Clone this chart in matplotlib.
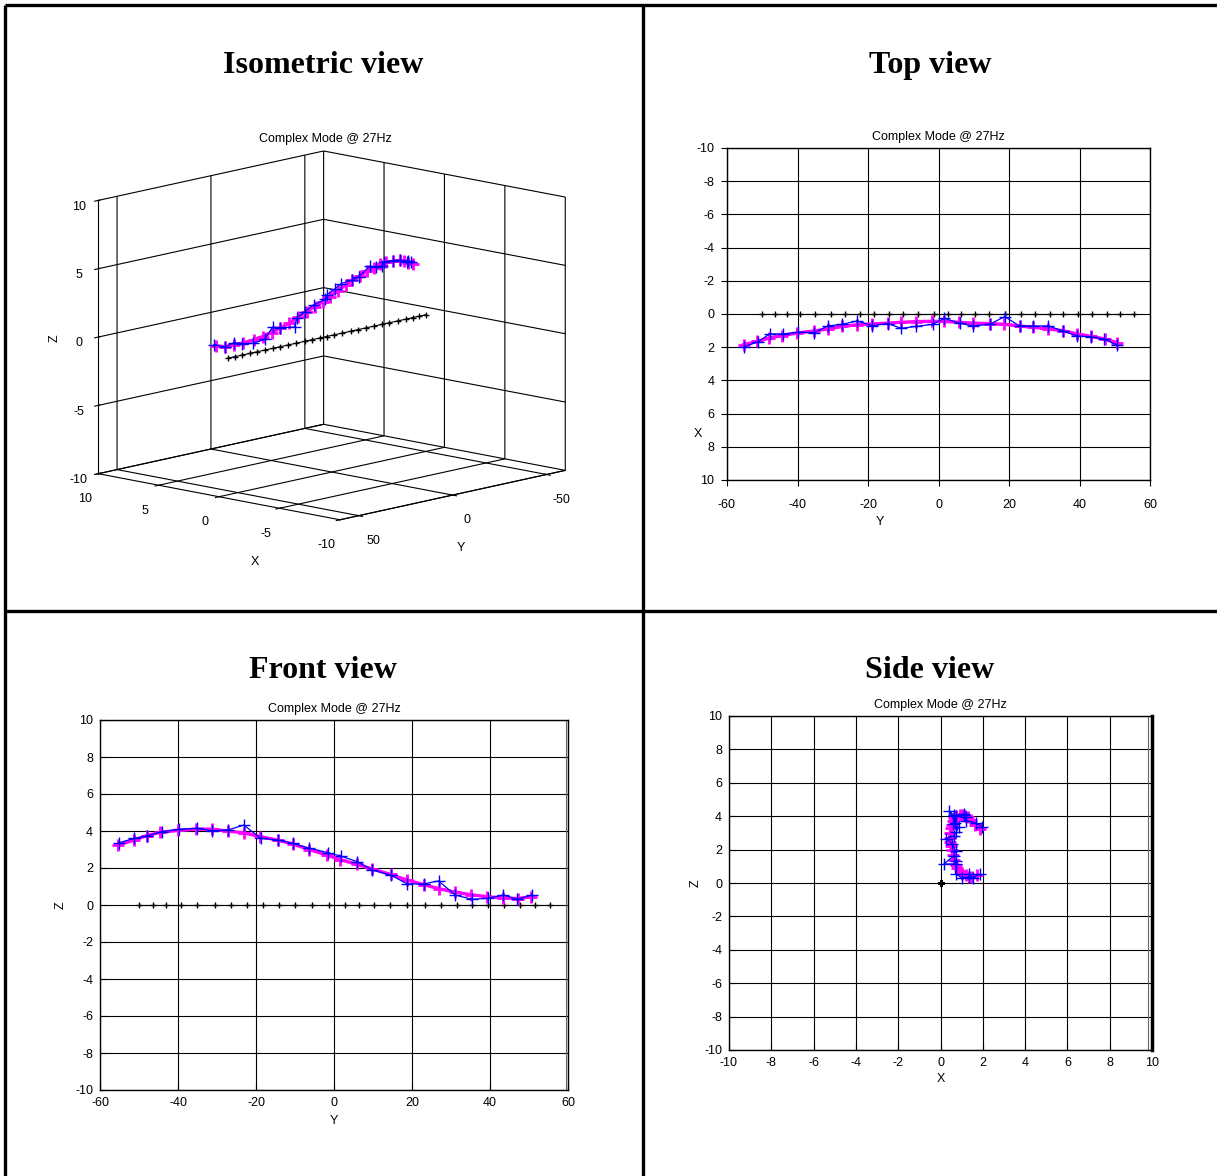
import matplotlib
matplotlib.use("Agg")
import matplotlib.pyplot as plt
import numpy as np
from matplotlib.lines import Line2D

plt.rcParams["font.family"] = ["Liberation Sans", "DejaVu Sans"]
plt.rcParams["axes.unicode_minus"] = False

# ── data ──
y_undef = [-50.0, -46.5, -43.0, -39.3, -35.1, -30.5, -26.5, -22.4, -18.3, -14.0,
           -10.0, -5.7, -1.2, 2.8, 6.5, 10.3, 14.4, 18.8, 23.3, 27.4,
           31.5, 35.3, 39.6, 43.6, 47.7, 51.5, 55.4]

# measured deformed shape (blue)
y_meas = [-55.1, -51.2, -47.9, -44.2, -39.8, -35.2, -31.4, -27.3, -23.1, -18.8,
          -14.3, -10.6, -6.4, -1.6, 1.7, 6.0, 9.8, 14.5, 18.8, 23.0,
          26.8, 31.1, 35.3, 39.4, 43.4, 47.0, 50.7]
x_meas = [1.97, 1.67, 1.20, 1.20, 1.10, 1.12, 0.72, 0.62, 0.42, 0.70,
          0.58, 0.86, 0.75, 0.62, 0.26, 0.56, 0.72, 0.62, 0.16, 0.72,
          0.72, 0.72, 1.02, 1.33, 1.37, 1.52, 1.87]
z_meas = [3.37, 3.60, 3.73, 3.96, 4.09, 4.14, 4.02, 4.05, 4.32, 3.60,
          3.51, 3.33, 3.08, 2.83, 2.65, 2.34, 1.89, 1.62, 1.14, 1.14,
          1.30, 0.54, 0.31, 0.36, 0.54, 0.31, 0.54]

# smoothed deformed shape (magenta)
y_fit = [-55.3, -51.4, -48.0, -44.5, -40.1, -35.3, -31.3, -27.3, -23.2, -18.9,
         -14.4, -10.6, -6.4, -1.8, 1.6, 5.9, 9.8, 14.5, 18.7, 23.0,
         26.9, 31.0, 35.2, 39.3, 43.3, 47.1, 50.6]
x_fit = [1.85, 1.65, 1.45, 1.30, 1.15, 1.02, 0.90, 0.75, 0.65, 0.60,
         0.55, 0.50, 0.46, 0.44, 0.45, 0.50, 0.55, 0.58, 0.62, 0.72,
         0.80, 0.90, 1.00, 1.20, 1.35, 1.50, 1.72]
z_fit = [3.25, 3.50, 3.75, 3.93, 4.03, 4.10, 4.10, 4.00, 3.90, 3.70,
         3.50, 3.30, 3.00, 2.70, 2.45, 2.20, 1.95, 1.65, 1.35, 1.10,
         0.88, 0.70, 0.55, 0.45, 0.38, 0.35, 0.45]

x_undef = [0.0] * len(y_undef)
z_undef = [0.0] * len(y_undef)

TITLE = "Complex Mode @ 27Hz"
FS = 9
W, H = 1217, 1176

UNDEF = dict(color="black", marker="+", ms=4.5, lw=0.8, mew=1.0)
FIT = dict(color="magenta", marker="+", ms=8, lw=2.4, mew=2.0)
MEAS = dict(color="blue", marker="+", ms=9, lw=0.9, mew=1.0)


def style2d(ax, tickdir="in", pad=5):
    ax.grid(True, color="black", lw=0.8)
    ax.set_axisbelow(True)
    ax.tick_params(direction=tickdir, labelsize=FS, length=4, width=0.8,
                   top=False, right=False, pad=pad)
    for s in ax.spines.values():
        s.set_linewidth(1.0)
    ax.set_title(TITLE, fontsize=FS, pad=6)


def px(x, y):
    """pixel position (from top-left) -> figure fraction"""
    return x / W, 1 - y / H


fig = plt.figure(figsize=(W / 100, H / 100), dpi=100)

# ── Isometric view ──
ax3 = fig.add_axes([0.022, 0.494, 0.49, 0.43], projection="3d")
ax3.set_proj_type("ortho")
ax3.plot(x_undef, y_undef, z_undef, **UNDEF)
ax3.plot(x_fit, y_fit, z_fit, **FIT)
ax3.plot(x_meas, y_meas, z_meas, **MEAS)
ax3.set_xlim(-10, 10)
ax3.set_ylim(-60, 60)
ax3.set_zlim(-10, 10)
ax3.set_xticks([-10, -5, 0, 5, 10])
ax3.set_yticks([-50, 0, 50])
ax3.set_zticks([-10, -5, 0, 5, 10])
ax3.tick_params(labelsize=FS)
ax3.tick_params(axis="z", pad=0)
ax3.view_init(elev=11.8, azim=133)
ax3.set_box_aspect((1, 1, 0.845), zoom=1.045)
ax3.zaxis.set_ticks_position("upper")
for axis in (ax3.xaxis, ax3.yaxis, ax3.zaxis):
    axis.set_pane_color((1, 1, 1, 0))
    axis.line.set_color("black")
    axis._axinfo["grid"].update(color="black", linewidth=0.8)
ax3.set_title(TITLE, fontsize=FS, y=0.955)
# axis names placed where the original software put them
fig.text(*px(255, 562), "X", fontsize=FS, ha="center", va="center")
fig.text(*px(461, 548), "Y", fontsize=FS, ha="center", va="center")
fig.text(*px(55, 338), "Z", fontsize=FS, ha="center", va="center", rotation=90)

# ── Top view ──
axt = fig.add_axes([727 / W, 1 - 480 / H, 423 / W, 332 / H])
axt.plot(y_undef, x_undef, **UNDEF)
axt.plot(y_fit, x_fit, **FIT)
axt.plot(y_meas, x_meas, **MEAS)
axt.set_xlim(-60, 60)
axt.set_ylim(10, -10)
axt.set_xticks(np.arange(-60, 61, 20))
axt.set_yticks(np.arange(-10, 11, 2))
axt.set_xlabel("Y", fontsize=FS)
axt.set_ylabel("X", fontsize=FS, rotation=0)
style2d(axt, "out")
axt.tick_params(axis="x", pad=10)
axt.xaxis.set_label_coords(0.362, -0.108)
axt.yaxis.set_label_coords(-0.068, 0.12)

# ── Front view ──
axf = fig.add_axes([100 / W, 1 - 1090 / H, 468 / W, 370 / H])
axf.plot(y_undef, z_undef, **UNDEF)
axf.plot(y_fit, z_fit, **FIT)
axf.plot(y_meas, z_meas, **MEAS)
axf.axvline(59.4, color="0.4", lw=0.8)
axf.set_xlim(-60, 60)
axf.set_ylim(-10, 10)
axf.set_xticks(np.arange(-60, 61, 20))
axf.set_yticks(np.arange(-10, 11, 2))
axf.set_xlabel("Y", fontsize=FS, labelpad=4)
axf.set_ylabel("Z", fontsize=FS, labelpad=6)
style2d(axf, "in")

# ── Side view ──
axs = fig.add_axes([729 / W, 1 - 1050 / H, 423 / W, 334 / H])
axs.plot(x_undef, z_undef, **UNDEF)
axs.plot(x_fit, z_fit, **FIT)
axs.plot(x_meas, z_meas, **MEAS)
axs.axvline(9.8, color="0.4", lw=0.8)
axs.set_xlim(-10, 10)
axs.set_ylim(-10, 10)
axs.set_xticks(np.arange(-10, 11, 2))
axs.set_yticks(np.arange(-10, 11, 2))
axs.set_xlabel("X", fontsize=FS, labelpad=3)
axs.set_ylabel("Z", fontsize=FS, labelpad=2)
style2d(axs, "in")
axs.spines["right"].set_linewidth(2.5)

# ── table frame and cell headings ──
frame = dict(color="black", lw=2.4, transform=fig.transFigure, solid_capstyle="butt")
fig.add_artist(Line2D([0.0041, 1.0], [0.9957, 0.9957], **frame))
fig.add_artist(Line2D([0.0041, 0.0041], [0.0, 0.9957], **frame))
fig.add_artist(Line2D([0.5283, 0.5283], [0.0, 0.9957], **frame))
fig.add_artist(Line2D([0.0041, 1.0], [0.4804, 0.4804], **frame))

heading = dict(fontsize=23, fontweight="bold", family="Liberation Serif",
               ha="center", va="center")
fig.text(0.2654, 0.9440, "Isometric view", **heading)
fig.text(0.7642, 0.9440, "Top view", **heading)
fig.text(0.2654, 0.4302, "Front view", **heading)
fig.text(0.7642, 0.4302, "Side view", **heading)

fig.savefig("out.png", dpi=100, facecolor="white")
